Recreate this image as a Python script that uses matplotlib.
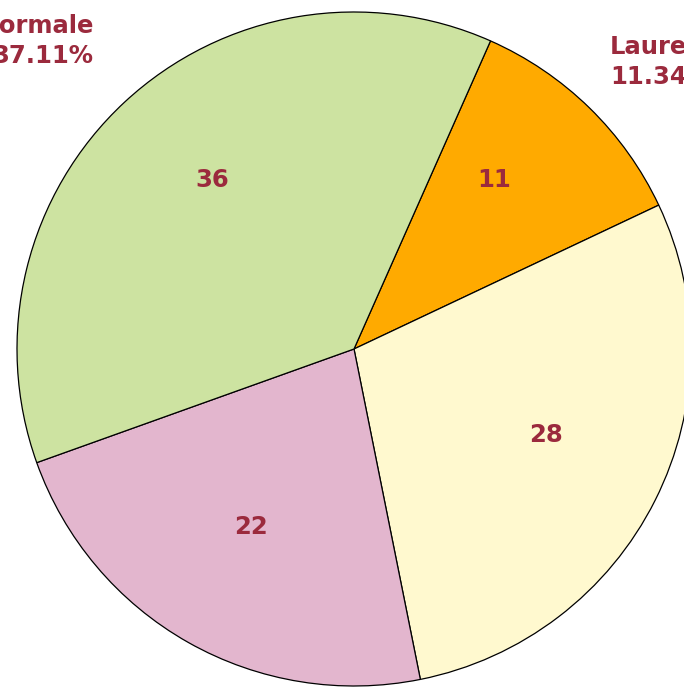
import matplotlib
matplotlib.use('Agg')
import matplotlib.pyplot as plt
import numpy as np

# %% dati

categorie = ['Laurea', 'Diploma', 'Licenza media', 'Scuola normale']
valori = [11, 28, 22, 36]
colori = ['#FFAA00', '#FFF9CF', '#E3B6CE', '#CDE3A1']
col_testo = '#9B2A3D'

totale = sum(valori)
etichette = [f'{c}\n{v / totale * 100:.2f}%' for c, v in zip(categorie, valori)]

# posizioni delle etichette (unita' del raggio)
pos_valori = [(0.415, 0.501), (0.570, -0.255), (-0.306, -0.528), (-0.421, 0.501)]
pos_etichette = [(0.760, 0.852), None, None, (-0.772, 0.914)]  # None = fuori dal riquadro

# %% grafico

fig = plt.figure(figsize=(6.84, 6.88), dpi=100)
ax = fig.add_axes([0, 0, 1, 1])

wedges, testi, autotesti = ax.pie(
    valori, labels=etichette, colors=colori, startangle=66.1, counterclock=False,
    autopct=lambda p: f'{p * totale / 100:.0f}',
    wedgeprops=dict(edgecolor='black', linewidth=0.9),
    textprops=dict(color=col_testo, fontsize=17.5, fontweight='bold', family='DejaVu Sans'))

for t, p in zip(autotesti, pos_valori):
    t.set_position(p)
    t.set_va('center')
    t.set_ha('center')

for t, p in zip(testi, pos_etichette):
    if p is None:
        t.set_visible(False)
        continue
    t.set_position(p)
    t.set_va('center')
    t.set_ha('left' if p[0] > 0 else 'right')
    t.set_linespacing(1.3)

# scala in pixel: centro (354, 349), raggio 337 px
s = 337
ax.set_xlim(-354 / s, (684 - 354) / s)
ax.set_ylim(-(688 - 349) / s, 349 / s)
ax.set_aspect('auto')
ax.axis('off')

fig.savefig('out.png', dpi=100)
